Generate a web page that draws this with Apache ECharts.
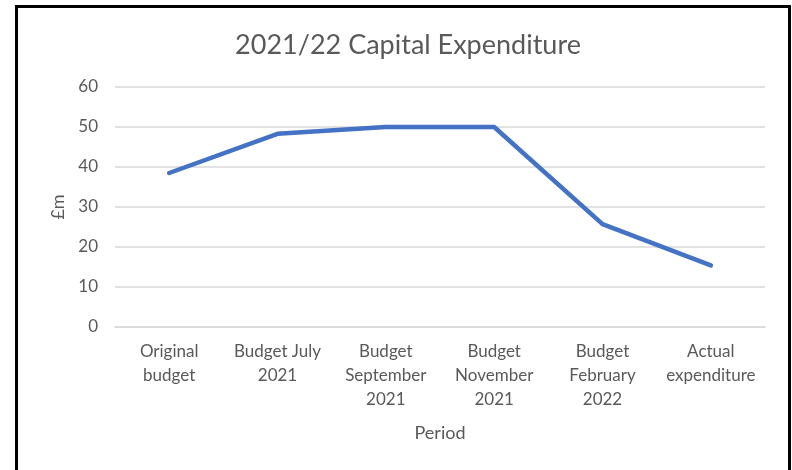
<!DOCTYPE html>
<html>
<head>
<meta charset="utf-8">
<script src="https://cdn.jsdelivr.net/npm/echarts@6/dist/echarts.min.js"></script>
<style>
	html, body { margin: 0; padding: 0; background: #fff; }
	#frame {
		position: absolute; left: 15px; top: 5px; width: 770px; height: 470px;
		border: 3px solid #000; border-bottom: none;
	}
	#chart { position: absolute; left: 0; top: 0; width: 792px; height: 470px; }
</style>
</head>
<body>
<div id="frame"></div>
<div id="chart"></div>
<script>
	var periods = [ 'Original\nbudget', 'Budget July\n2021', 'Budget\nSeptember\n2021',
			'Budget\nNovember\n2021', 'Budget\nFebruary\n2022', 'Actual\nexpenditure' ];
	var spend = [ 38.5, 48.3, 50, 50, 25.7, 15.4 ];
	var yTicks = [ 0, 60, 10 ];

	var font = 'Lato, "Open Sans", sans-serif';
	var chartDom = document.getElementById('chart');
	var myChart = echarts.init(chartDom);
	var option;
	option = {
		animation : false,
		title : {
			text : '2021/22 Capital Expenditure',
			left : 403,
			top : 27,
			textAlign : 'center',
			textStyle : {
				fontFamily : font,
				fontSize : 27,
				fontWeight : 'normal',
				color : '#595959'
			}
		},
		grid : {
			left : 115,
			right : 27,
			top : 87,
			bottom : 143
		},
		xAxis : {
			type : 'category',
			data : periods,
			name : 'Period',
			nameLocation : 'middle',
			nameGap : 97,
			nameTextStyle : {
				fontFamily : font,
				fontSize : 18,
				color : '#595959'
			},
			axisLine : {
				lineStyle : { color : '#d9d9d9', width : 1.5 }
			},
			axisTick : { show : false },
			axisLabel : {
				fontFamily : font,
				fontSize : 17,
				color : '#595959',
				lineHeight : 24,
				margin : 13,
				interval : 0
			}
		},
		yAxis : {
			type : 'value',
			min : yTicks[0],
			max : yTicks[1],
			interval : yTicks[2],
			name : '£m',
			nameLocation : 'middle',
			nameGap : 47,
			nameRotate : 90,
			nameTextStyle : {
				fontFamily : font,
				fontSize : 18,
				color : '#595959'
			},
			axisLabel : {
				fontFamily : font,
				fontSize : 17,
				color : '#595959',
				margin : 17
			},
			splitLine : {
				lineStyle : { color : '#d9d9d9', width : 1.5 }
			}
		},
		series : [ {
			name : '£m',
			type : 'line',
			data : spend,
			showSymbol : false,
			symbol : 'none',
			lineStyle : {
				color : '#4472C4',
				width : 4.5,
				cap : 'round'
			}
		} ]
	};

	option && myChart.setOption(option);
</script>
</body>
</html>
